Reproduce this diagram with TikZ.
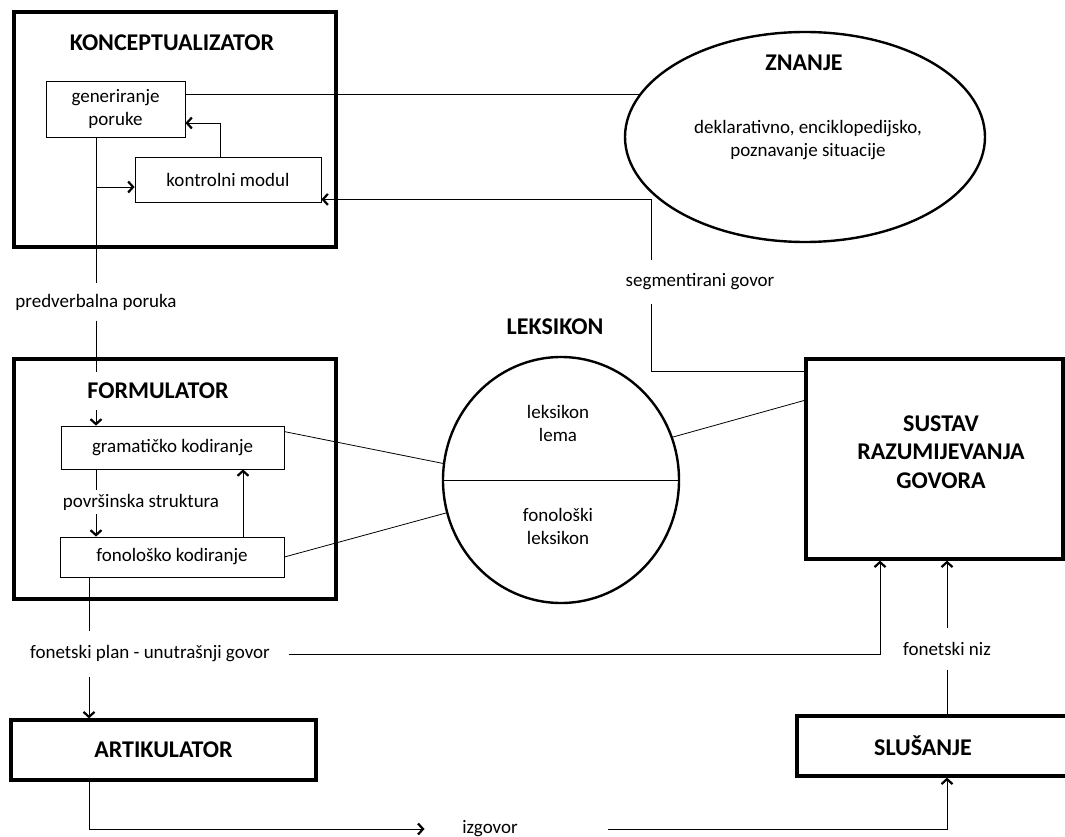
\documentclass[tikz,border=0pt]{standalone}
\usepackage{fontspec}
\setmainfont{Carlito}
\usetikzlibrary{arrows.meta,shapes.geometric}
\newcommand{\obican}{\fontsize{19}{23}\selectfont}
\newcommand{\krupni}{\fontsize{24}{28.5}\selectfont\bfseries}

\begin{document}
\begin{tikzpicture}[x=1pt, y=-1pt, line width=0.8pt,
        blok/.style = {draw, line width=3.2pt, inner sep=0pt},
        okvir/.style = {draw, line width=0.8pt, inner sep=0pt, font=\obican, align=center},
        krug/.style = {draw, ellipse, line width=2.4pt, inner sep=0pt},
        naslov/.style = {font=\krupni, align=center},
        oznaka/.style = {font=\obican, align=center},
        strelica/.style = {-{Straight Barb[length=5pt, width=11pt, line width=2.2pt]}}]

        \useasboundingbox (0,0) rectangle (1065,837);

        % proizvodnja govora
        \node[blok, minimum width=322pt, minimum height=235pt] (konc) at (175,129.5) {};
        \node[naslov] (koncnaslov) at (172,43) {KONCEPTUALIZATOR};
        \node[okvir, minimum width=139pt, minimum height=56pt] (gen) at (115.5,109) {generiranje\\poruke};
        \node[okvir, minimum width=186pt, minimum height=45pt] (kontr) at (228,179.5) {kontrolni modul};
        \node[oznaka, inner ysep=10pt] (pred) at (96,302) {predverbalna poruka};

        \node[blok, minimum width=322pt, minimum height=240pt] (form) at (175,479) {};
        \node[naslov, inner ysep=11pt] (formnaslov) at (158,391) {FORMULATOR};
        \node[okvir, minimum width=223pt, minimum height=43pt] (gram) at (172.5,447.5) {gramatičko kodiranje};
        \node[oznaka] (povr) at (141,502) {površinska struktura};
        \node[okvir, minimum width=224pt, minimum height=40pt] (fono) at (172,557) {fonološko kodiranje};
        \node[oznaka, inner ysep=14pt] (fon) at (150,654) {fonetski plan - unutrašnji govor};
        \coordinate (stup) at (89,654);

        \node[blok, minimum width=305pt, minimum height=60pt, font=\krupni] (artik) at (163.5,750) {ARTIKULATOR};
        \node[oznaka] (izg) at (490,829) {izgovor};

        % znanje i leksikon
        \node[krug, minimum width=360pt, minimum height=210pt] (znanje) at (805,137) {};
        \node[naslov] (znanjenaslov) at (804,63) {ZNANJE};
        \node[oznaka] (znanjeopis) at (808,140) {deklarativno, enciklopedijsko,\\poznavanje situacije};
        \node[oznaka, inner ysep=13pt] (seg) at (700,282) {segmentirani govor};
        \coordinate (segx) at (651,282);

        \node[naslov] (leksnaslov) at (555,327) {LEKSIKON};
        \node[krug, minimum width=236pt, minimum height=246pt] (leks) at (561,480) {};
        \node[oznaka] (lema) at (558,423) {leksikon\\lema};
        \node[oznaka] (fonleks) at (558,526) {fonološki\\leksikon};

        % razumijevanje govora
        \node[blok, minimum width=257pt, minimum height=200pt] (sustav) at (934.5,459) {};
        \node[naslov] (sustavnaslov) at (941,452) {SUSTAV\\RAZUMIJEVANJA\\GOVORA};
        \node[oznaka, inner ysep=14pt] (niz) at (947,649) {fonetski niz};
        \node[blok, minimum width=300pt, minimum height=60pt] (slus) at (947,746) {};
        \node[naslov] (slusnaslov) at (923,746) {SLUŠANJE};

        % veze
        \draw (gen.south -| pred) -- (pred.north);
        \draw (pred.south) -- (formnaslov.north -| pred);
        \draw[strelica] (formnaslov.south -| pred) -- (gram.north -| pred);
        \draw[strelica] ([yshift=-7.5pt]kontr.west -| pred) -- ([yshift=-7.5pt]kontr.west);
        \draw[strelica] ([xshift=-8pt]kontr.north) |- ([yshift=-14pt]gen.east);
        \draw ([yshift=15pt]gen.east) -- ([yshift=15pt]gen.east -| znanje.165);

        \draw ([yshift=-14pt]sustav.north west) -| (seg.south -| segx);
        \draw[strelica] (seg.north -| segx) |- ([yshift=3pt]kontr.south east);

        \draw (leks.west) -- (leks.east);
        \draw ([yshift=-6pt]gram.north east) -- (leks.172);
        \draw (fono.east) -- (leks.196);
        \draw (leks.21) -- ([yshift=-43pt]sustav.north west);

        \draw (gram.south -| pred) -- (povr.north -| pred);
        \draw[strelica] (povr.south -| pred) -- (fono.north -| pred);
        \draw[strelica] ([xshift=71pt]fono.north) -- ([xshift=71pt]fono.north |- gram.south);

        \draw (fono.south -| stup) -- (fon.north -| stup);
        \draw[strelica] (fon.south -| stup) -- (artik.north -| stup);
        \draw[strelica] ([xshift=15pt]fon.east) -| ([xshift=-54.5pt]sustav.south);

        \draw[strelica] (artik.south -| stup) |- ([xshift=-34pt]izg.west);
        \draw[strelica] ([xshift=87pt]izg.east) -| (slus.south);
        \draw (slus.north) -- (niz.south);
        \draw[strelica] (niz.north) -- (niz.north |- sustav.south);
    \end{tikzpicture}
\end{document}
